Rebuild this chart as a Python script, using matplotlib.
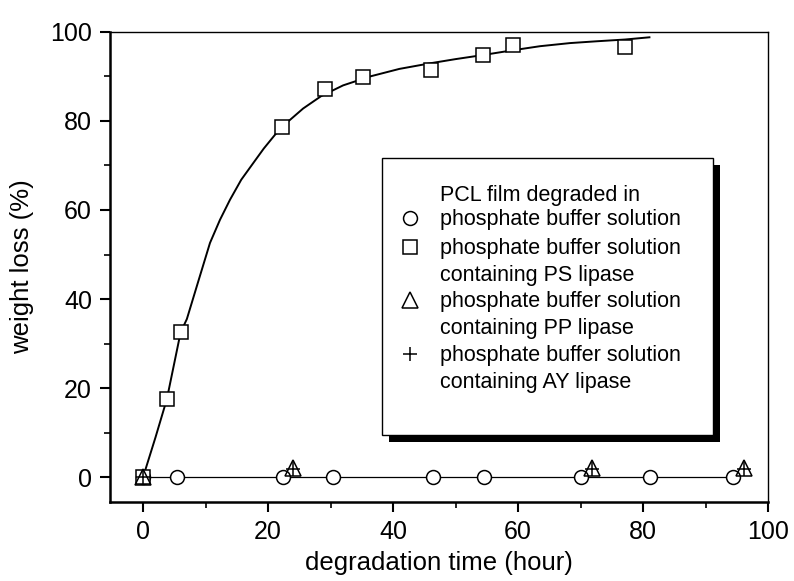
import matplotlib
matplotlib.use("Agg")
import matplotlib.pyplot as plt
from matplotlib.patches import Rectangle
from matplotlib.ticker import MultipleLocator

plt.rcParams['font.family'] = ['Liberation Sans', 'DejaVu Sans']

# weight loss (%) vs degradation time (hour)
ps_time = [0, 3.8, 6.0, 22.3, 29.1, 35.1, 46.1, 54.3, 59.2, 77.1]
ps_loss = [0, 17.5, 32.5, 78.7, 87.2, 89.8, 91.5, 94.8, 97.1, 96.7]

# fitted curve for the PS lipase data
fit_time = [0, 2, 3.8, 6.0, 7.0, 8.9, 10.7, 12.3, 13.9, 15.7, 17.6, 19.3, 21.1,
            23.3, 25.6, 28.5, 32.0, 36.3, 41.0, 46.1, 50.0, 54.3, 59.2, 63.5,
            68.3, 72.5, 77.1, 81.0]
fit_loss = [0, 9.0, 17.5, 32.5, 35.5, 44.3, 52.6, 57.8, 62.3, 66.8, 70.5, 73.8,
            76.9, 80.0, 82.8, 85.6, 88.0, 90.0, 91.7, 93.0, 93.9, 94.8, 95.9,
            96.8, 97.5, 97.9, 98.3, 98.8]

buffer_time = [0, 5.4, 22.4, 30.4, 46.3, 54.6, 70.0, 81.1, 94.3]
buffer_loss = [0, 0, 0, 0, 0, 0, 0, 0, 0]

pp_time = [0, 24.0, 71.8, 96.1]
pp_loss = [0, 2.0, 2.0, 2.0]

ay_time = [0, 24.0, 71.8, 96.1]
ay_loss = [0, 1.8, 1.8, 1.8]

legend_title = 'PCL film degraded in'
legend_labels = [
    'phosphate buffer solution',
    'phosphate buffer solution\ncontaining PS lipase',
    'phosphate buffer solution\ncontaining PP lipase',
    'phosphate buffer solution\ncontaining AY lipase',
]

circle = dict(marker='o', ms=10, mfc='white', mec='black', mew=1.1)
square = dict(marker='s', ms=9.5, mfc='white', mec='black', mew=1.1)
triangle = dict(marker='^', ms=11, mfc='none', mec='black', mew=1.1)
plus = dict(marker='+', ms=10, mec='black', mew=1.1)

fig = plt.figure(figsize=(7.94, 5.81), dpi=100)
ax = fig.add_axes([0.1385, 0.136, 0.829, 0.809])

ax.plot(fit_time, fit_loss, color='black', lw=1.4, zorder=2)
ax.plot(buffer_time, buffer_loss, color='black', lw=0.9, zorder=2)
ax.plot(buffer_time, buffer_loss, ls='none', zorder=3, **circle)
ax.plot(ps_time, ps_loss, ls='none', zorder=4, **square)
ax.plot(pp_time, pp_loss, ls='none', zorder=4, **triangle)
ax.plot(ay_time, ay_loss, ls='none', zorder=5, **plus)

ax.set_xlim(-5.3, 100)
ax.set_ylim(-5.6, 100)
ax.xaxis.set_major_locator(MultipleLocator(20))
ax.xaxis.set_minor_locator(MultipleLocator(10))
ax.yaxis.set_major_locator(MultipleLocator(20))
ax.yaxis.set_minor_locator(MultipleLocator(10))
ax.tick_params(which='major', direction='out', length=7, width=1.5,
               labelsize=18, pad=6)
ax.tick_params(which='minor', direction='out', length=4, width=1.2)
ax.tick_params(top=False, right=False, which='both')

ax.spines['left'].set_linewidth(1.8)
ax.spines['bottom'].set_linewidth(1.8)
ax.spines['top'].set_linewidth(1.0)
ax.spines['right'].set_linewidth(1.0)

ax.set_xlabel('degradation time (hour)', fontsize=18.5)
ax.set_ylabel('weight loss (%)', fontsize=18.5)
ax.xaxis.set_label_coords(0.5, -0.105)
ax.yaxis.set_label_coords(-0.115, 0.5)

# hand-made legend box with a black drop shadow
box_x0, box_x1 = 0.4134, 0.9164
box_y0, box_y1 = 0.1426, 0.7319
ax.add_patch(Rectangle((box_x0 + 0.0106, box_y0 - 0.0149), box_x1 - box_x0,
                       box_y1 - box_y0, transform=ax.transAxes, facecolor='black',
                       edgecolor='none', zorder=6, clip_on=False))
ax.add_patch(Rectangle((box_x0, box_y0), box_x1 - box_x0, box_y1 - box_y0,
                       transform=ax.transAxes, facecolor='white',
                       edgecolor='black', lw=1.0, zorder=7, clip_on=False))

text_x, mark_x = 0.5015, 0.4559
ax.text(text_x, 0.6510, legend_title, transform=ax.transAxes, fontsize=15.5,
        va='center', ha='left', zorder=8)
row_y = [0.6043, 0.5426, 0.4298, 0.3149]
for y, label, style in zip(row_y, legend_labels, [circle, square, triangle, plus]):
    ax.text(text_x, y + 0.019, label, transform=ax.transAxes, fontsize=15.5,
            va='top', ha='left', linespacing=1.36, zorder=8)
    ax.plot([mark_x], [y], transform=ax.transAxes, ls='none', zorder=8,
            clip_on=False, **style)

fig.savefig('out.png', dpi=100)
